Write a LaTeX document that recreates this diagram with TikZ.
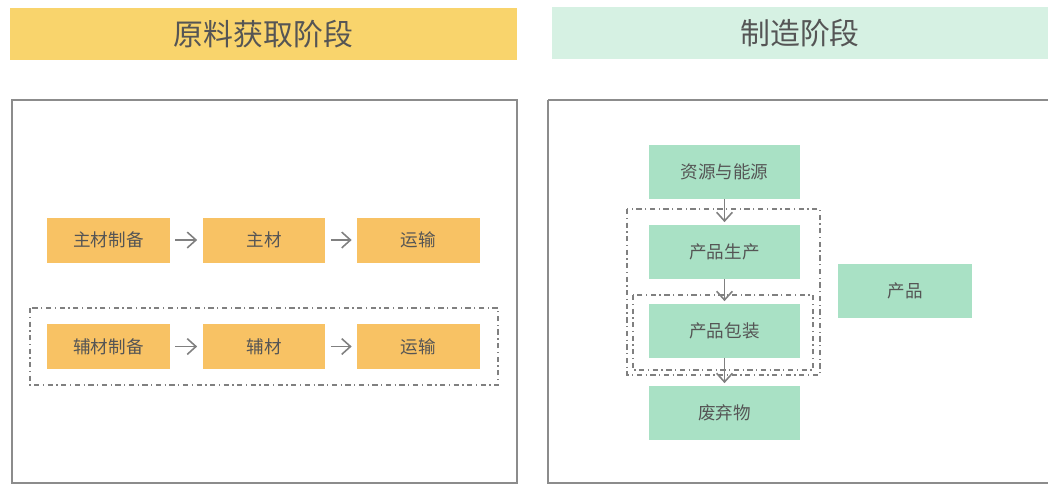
\documentclass[tikz,border=0pt]{standalone}
\usepackage{fontspec}
\newfontfamily\cjk{Noto Sans CJK SC}
\usepackage{xcolor}
\usetikzlibrary{positioning,arrows.meta}

\definecolor{hdrA}{HTML}{F9D46C}
\definecolor{hdrB}{HTML}{D6F1E3}
\definecolor{boxA}{HTML}{F8C264}
\definecolor{boxB}{HTML}{A9E1C5}
\definecolor{ink}{HTML}{555555}

\begin{document}
\begin{tikzpicture}[x=0.02cm,y=-0.02cm,
 hdr/.style={minimum height=1.04cm,inner sep=0pt,text=ink,font=\cjk\fontsize{17}{17}\selectfont},
 boxa/.style={fill=boxA,minimum width=2.46cm,minimum height=0.9cm,inner sep=0pt,text=ink,font=\cjk\fontsize{10}{10}\selectfont},
 boxb/.style={fill=boxB,minimum width=3.02cm,minimum height=1.08cm,inner sep=0pt,text=ink,font=\cjk\fontsize{10}{10}\selectfont},
 flow/.style={-{Straight Barb[length=5pt,width=9pt]},draw=gray,line width=0.9pt},
 group/.style={draw=gray,line width=0.7pt,dash dot}]

\useasboundingbox (0,0) rectangle (1048,485);

\begin{scope} %raw material
 \node[hdr,fill=hdrA,minimum width=10.14cm] (hA) at (263.5,34) {原料获取阶段};
 \draw[draw=gray!90,line width=0.6pt] (12,100) rectangle (517,483);
 \node[boxa] (mA) at (108.5,240) {主材制备};
 \node[boxa] (mB) at (264,240) {主材};
 \node[boxa] (mC) at (418.5,240) {运输};
 \node[boxa] (aA) at (108.5,346.5) {辅材制备};
 \node[boxa] (aB) at (264,346.5) {辅材};
 \node[boxa] (aC) at (418.5,346.5) {运输};
 \foreach \a/\b in {mA/mB,mB/mC,aA/aB,aB/aC} \draw[flow,shorten <=0.1cm,shorten >=0.1cm] (\a) -- (\b);
 \draw[group] (30,308) rectangle (498,385);
\end{scope}

\begin{scope} %manufacturing
 \node[hdr,fill=hdrB,minimum width=9.94cm] (hB) at (800,33) {制造阶段};
 \draw[draw=gray!90,line width=0.6pt] (548,100) -- (1048,100) (548,100) -- (548,483) -- (1048,483);
 \node[boxb] (src) at (724.5,171.5) {资源与能源};
 \node[boxb] (make) at (724.5,251.5) {产品生产};
 \node[boxb] (pack) at (724.5,330.5) {产品包装};
 \node[boxb] (waste) at (724.5,412.5) {废弃物};
 \node[boxb,minimum width=2.68cm] (prod) at (905,290.5) {产品};
 \foreach \a/\b in {src/make,make/pack,pack/waste} \draw[flow,shorten >=0.04cm] (\a) -- (\b);
 \draw[group] (627,209) rectangle (820,375);
 \draw[group] (633,295) rectangle (813,370);
\end{scope}

\end{tikzpicture}
\end{document}
